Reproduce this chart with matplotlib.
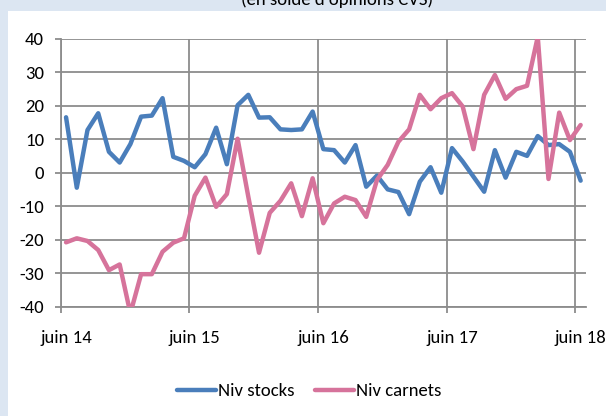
import matplotlib
matplotlib.use("Agg")
import matplotlib.pyplot as plt
from matplotlib.patches import Rectangle
from matplotlib import font_manager

names = {f.name for f in font_manager.fontManager.ttflist}
fam = [n for n in ["Carlito", "Liberation Sans Narrow", "Open Sans", "DejaVu Sans"] if n in names]
plt.rcParams['font.family'] = fam

tick_labels = ["juin 14", "juin 15", "juin 16", "juin 17", "juin 18"]
y_ticks = [-40, -30, -20, -10, 0, 10, 20, 30, 40]

niv_stocks = [16.5, -4.5, 12.7, 17.7, 6.2, 3.0, 8.5, 16.7, 17.0, 22.2, 4.7, 3.5,
              1.6, 5.5, 13.4, 2.5, 20.1, 23.2, 16.4, 16.5, 12.9, 12.7, 12.9, 18.2,
              7.0, 6.7, 3.0, 8.2, -4.2, -0.9, -5.0, -5.8, -12.4, -2.7, 1.6, -6.0,
              7.3, 3.3, -1.2, -5.7, 6.7, -1.5, 6.2, 5.0, 10.9, 8.2, 8.5, 6.2, -2.4]
niv_carnets = [-20.8, -19.6, -20.4, -23.1, -29.1, -27.4, -42.0, -30.3, -30.3, -23.6, -20.9, -19.6,
               -6.9, -1.5, -10.2, -6.4, 10.1, -7.2, -23.9, -12.0, -8.4, -3.2, -13.0, -1.7,
               -15.1, -9.2, -7.2, -8.2, -13.2, -2.2, 2.3, 9.2, 12.9, 23.2, 18.9, 22.2,
               23.7, 19.7, 7.0, 23.2, 29.1, 22.0, 24.9, 25.9, 40.5, -1.9, 17.9, 9.7, 14.2]

W, H = 606, 416
fig = plt.figure(figsize=(W/100, H/100), dpi=100)
fig.patch.set_facecolor('#dce6f2')
fig.patches.append(Rectangle((8/W, 0), 1, 1 - 11/H, transform=fig.transFigure,
                             facecolor='white', edgecolor='none', zorder=-5))
fig.text(337/W, 1 - 5/H, "(en solde d'opinions CVS)", ha='center', va='baseline',
         fontsize=13.5, color='#000000', zorder=-4)

ax = fig.add_axes([60.7/W, 1 - 306.7/H, (586 - 60.7)/W, (306.7 - 38.5)/H])
ax.set_zorder(2)
ax.set_facecolor('white')
x = list(range(len(niv_stocks)))
ax.plot(x, niv_stocks, color='#4a7ebb', lw=3.2, label='Niv stocks', solid_capstyle='round', zorder=3)
ax.plot(x, niv_carnets, color='#d6739b', lw=3.2, label='Niv carnets', solid_capstyle='round', zorder=3)

ax.set_xlim(-0.5, len(x) - 0.5)
ax.set_ylim(-40, 40)
ax.set_yticks(y_ticks)
ax.set_yticklabels([str(v) for v in y_ticks])
ax.set_xticks([0, 12, 24, 36, 48])
ax.set_xticklabels(tick_labels)
ax.set_xticks([-0.5, 11.5, 23.5, 35.5, 47.5], minor=True)

grid_c = '#8c8c8c'
ax.grid(True, axis='y', color=grid_c, lw=1.3, zorder=1)
ax.grid(True, axis='x', which='minor', color=grid_c, lw=1.3, zorder=1)
ax.grid(False, axis='x', which='major')
for s in ['top', 'right']:
    ax.spines[s].set_visible(False)
ax.spines['left'].set_color(grid_c)
ax.spines['left'].set_linewidth(1.3)
ax.spines['bottom'].set_color(grid_c)
ax.spines['bottom'].set_linewidth(1.3)
ax.tick_params(axis='y', length=4, width=1.3, color=grid_c, pad=8, labelsize=13.5)
ax.tick_params(axis='x', which='major', length=0, pad=17, labelsize=13.5)
ax.tick_params(axis='x', which='minor', length=4, width=1.3, color=grid_c)

ax.legend(loc='center', bbox_to_anchor=(309/W, 1 - 391/H), bbox_transform=fig.transFigure,
          ncol=2, frameon=False, fontsize=13.5, handlelength=2.1, handletextpad=0.1,
          columnspacing=1.1)

fig.savefig('out.png', dpi=100, facecolor=fig.get_facecolor())
